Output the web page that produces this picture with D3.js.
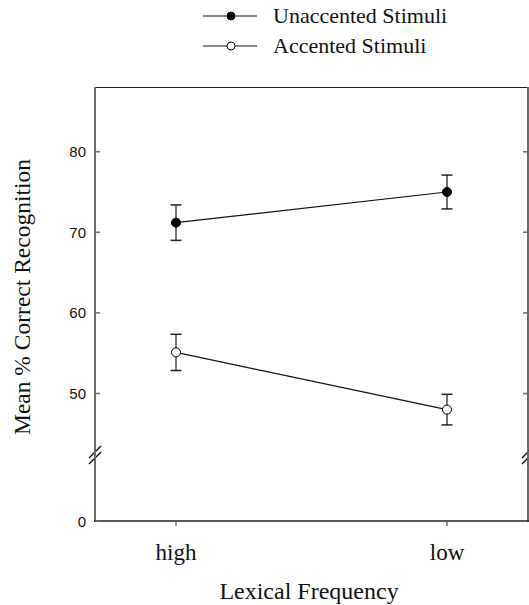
<!DOCTYPE html>
<html lang="en">
<head>
    <meta charset="UTF-8">
    <title>Lexical Frequency</title>
    <script src="https://d3js.org/d3.v7.min.js"></script>
    <style>
        body { margin: 0; background: #fff; }
    </style>
</head>
<body>
    <script type="text/javascript">

        var categories = ["high", "low"];
        var seriesNames = ["Unaccented Stimuli", "Accented Stimuli"];
        var unaccentedMean = [71.2, 75.0];
        var unaccentedErr = [2.2, 2.1];
        var accentedMean = [55.1, 48.0];
        var accentedErr = [2.25, 1.9];
        var upperTicks = [50, 60, 70, 80];
        var lowerTicks = [0];

        var w = 529;
        var h = 605;
        var plotLeft = 95, plotRight = 528, plotTop = 87, plotBottom = 521;
        var breakY = 455;
        var axisColor = "#6a6a6a";
        var serif = "'Liberation Serif', 'Times New Roman', serif";
        var sans = "'Liberation Sans', Arial, sans-serif";

        var svg = d3.select("body")
            .append("svg")
            .attr("width", w)
            .attr("height", h);

        // two linear pieces for the broken axis
        var yUpper = d3.scaleLinear().domain([50, 80]).range([393.5, 151.7]);
        var yLower = d3.scaleLinear().domain([0, 10]).range([plotBottom, plotBottom - 80.6]);
        function y(v) {
            return v > 25 ? yUpper(v) : yLower(v);
        }

        var x = d3.scalePoint()
            .domain(categories)
            .range([176, 447]);

        // frame
        svg.append("line")
            .attr("x1", plotLeft).attr("x2", plotRight)
            .attr("y1", plotTop + 0.5).attr("y2", plotTop + 0.5)
            .attr("stroke", "#222").attr("stroke-width", 1);

        [plotLeft, plotRight].forEach(function (ax) {
            svg.append("line")
                .attr("x1", ax).attr("x2", ax)
                .attr("y1", plotTop).attr("y2", plotBottom + 1)
                .attr("stroke", axisColor).attr("stroke-width", 2);
            // break marks
            [-3, 3].forEach(function (off) {
                svg.append("line")
                    .attr("x1", ax - 6).attr("x2", ax + 6)
                    .attr("y1", breakY + off + 6).attr("y2", breakY + off - 6)
                    .attr("stroke", "#111").attr("stroke-width", 1.5);
            });
            svg.append("line")
                .attr("x1", ax).attr("x2", ax)
                .attr("y1", breakY - 4).attr("y2", breakY + 4)
                .attr("stroke", axisColor).attr("stroke-width", 2);
        });

        svg.append("line")
            .attr("x1", plotLeft - 1).attr("x2", plotRight + 1)
            .attr("y1", plotBottom).attr("y2", plotBottom)
            .attr("stroke", "#222").attr("stroke-width", 1.5);

        // y ticks
        var allTicks = lowerTicks.concat(upperTicks);
        svg.selectAll(".ytick")
            .data(allTicks)
            .enter()
            .append("line")
            .attr("x1", plotLeft).attr("x2", plotLeft + 5)
            .attr("y1", function (d) { return y(d); })
            .attr("y2", function (d) { return y(d); })
            .attr("stroke", axisColor).attr("stroke-width", 1.5);

        svg.selectAll(".ytickR")
            .data(upperTicks)
            .enter()
            .append("line")
            .attr("x1", plotRight - 5).attr("x2", plotRight)
            .attr("y1", function (d) { return y(d); })
            .attr("y2", function (d) { return y(d); })
            .attr("stroke", axisColor).attr("stroke-width", 1.5);

        svg.selectAll(".ylabel")
            .data(allTicks)
            .enter()
            .append("text")
            .text(function (d) { return d; })
            .attr("x", 86)
            .attr("y", function (d) { return y(d) + 5.5; })
            .attr("text-anchor", "end")
            .attr("font-family", sans)
            .attr("font-size", "15px")
            .attr("fill", "#111");

        // x ticks
        svg.selectAll(".xtick")
            .data(categories)
            .enter()
            .append("line")
            .attr("x1", function (d) { return x(d); })
            .attr("x2", function (d) { return x(d); })
            .attr("y1", plotBottom).attr("y2", plotBottom + 5)
            .attr("stroke", axisColor).attr("stroke-width", 1.5);

        svg.selectAll(".xlabel")
            .data(categories)
            .enter()
            .append("text")
            .text(function (d) { return d; })
            .attr("x", function (d) { return x(d); })
            .attr("y", 560)
            .attr("text-anchor", "middle")
            .attr("font-family", serif)
            .attr("font-size", "23px")
            .attr("fill", "#111");

        svg.append("text")
            .text("Lexical Frequency")
            .attr("x", 309)
            .attr("y", 599)
            .attr("text-anchor", "middle")
            .attr("font-family", serif)
            .attr("font-size", "24px")
            .attr("fill", "#111");

        svg.append("text")
            .text("Mean % Correct Recognition")
            .attr("transform", "translate(30,297) rotate(-90)")
            .attr("text-anchor", "middle")
            .attr("font-family", serif)
            .attr("font-size", "23.5px")
            .attr("fill", "#111");

        // series
        var series = [
            { name: seriesNames[0], mean: unaccentedMean, err: unaccentedErr, fill: "#000" },
            { name: seriesNames[1], mean: accentedMean, err: accentedErr, fill: "#fff" }
        ];

        var line = d3.line()
            .x(function (d) { return x(d.cat); })
            .y(function (d) { return y(d.v); });

        series.forEach(function (s) {
            var pts = categories.map(function (c, i) {
                return { cat: c, v: s.mean[i], e: s.err[i] };
            });

            svg.append("path")
                .datum(pts)
                .attr("d", line)
                .attr("fill", "none")
                .attr("stroke", "#111")
                .attr("stroke-width", 1.2);

            var g = svg.append("g");
            g.selectAll(".bar")
                .data(pts)
                .enter()
                .append("line")
                .attr("x1", function (d) { return x(d.cat); })
                .attr("x2", function (d) { return x(d.cat); })
                .attr("y1", function (d) { return y(d.v - d.e); })
                .attr("y2", function (d) { return y(d.v + d.e); })
                .attr("stroke", "#444").attr("stroke-width", 1.5);

            [-1, 1].forEach(function (sign) {
                g.selectAll(".cap" + sign)
                    .data(pts)
                    .enter()
                    .append("line")
                    .attr("x1", function (d) { return x(d.cat) - 5.5; })
                    .attr("x2", function (d) { return x(d.cat) + 5.5; })
                    .attr("y1", function (d) { return y(d.v + sign * d.e); })
                    .attr("y2", function (d) { return y(d.v + sign * d.e); })
                    .attr("stroke", "#222").attr("stroke-width", 1.5);
            });

            g.selectAll("circle")
                .data(pts)
                .enter()
                .append("circle")
                .attr("cx", function (d) { return x(d.cat); })
                .attr("cy", function (d) { return y(d.v); })
                .attr("r", 4.5)
                .attr("fill", s.fill)
                .attr("stroke", "#000")
                .attr("stroke-width", 1);
        });

        // legend
        var legend = svg.selectAll(".legend")
            .data(series)
            .enter()
            .append("g")
            .attr("transform", function (d, i) {
                return "translate(0," + (16 + i * 30) + ")";
            });

        legend.append("line")
            .attr("x1", 203).attr("x2", 257)
            .attr("y1", 0).attr("y2", 0)
            .attr("stroke", "#111").attr("stroke-width", 1.2);

        legend.append("circle")
            .attr("cx", 231).attr("cy", 0)
            .attr("r", 4)
            .attr("fill", function (d) { return d.fill; })
            .attr("stroke", "#000");

        legend.append("text")
            .text(function (d) { return d.name; })
            .attr("x", 273)
            .attr("y", 7)
            .attr("font-family", serif)
            .attr("font-size", "22px")
            .attr("fill", "#111");

    </script>
</body>
</html>
